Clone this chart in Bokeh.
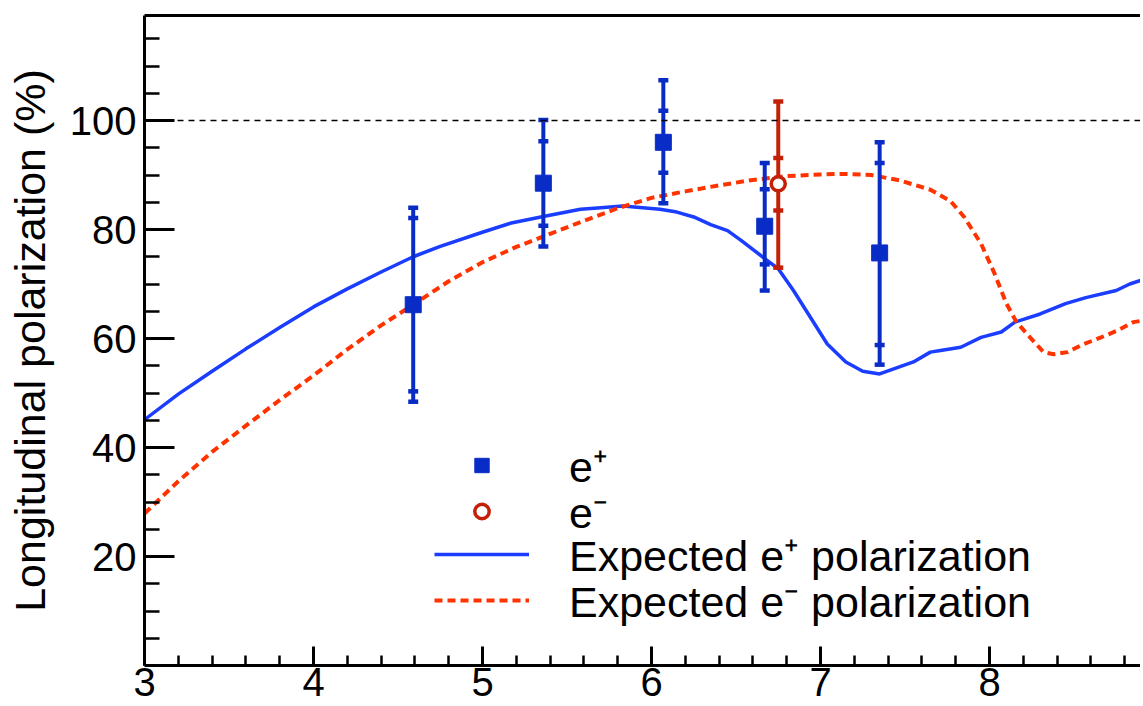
from bokeh.plotting import figure
from bokeh.models import (Range1d, FixedTicker, LinearAxis, Span, Legend, LegendItem)
from bokeh.embed import file_html
from bokeh.resources import INLINE

# ---- data ----
pos_x = [4.59, 5.36, 6.07, 6.67, 7.35]
pos_y = [66.2, 88.5, 96.0, 80.6, 75.7]
pos_stat_lo = [50.3, 80.7, 90.4, 73.6, 58.8]
pos_stat_hi = [82.1, 96.2, 101.8, 87.4, 92.2]
pos_tot_lo = [48.4, 76.9, 84.8, 68.8, 55.2]
pos_tot_hi = [84.0, 100.1, 107.4, 92.2, 96.0]

neg_x = [6.75]
neg_y = [88.4]
neg_stat_lo = [83.5]
neg_stat_hi = [93.1]
neg_tot_lo = [73.0]
neg_tot_hi = [103.5]

exp_pos_x = [3.0, 3.2, 3.4, 3.6, 3.8, 4.0, 4.2, 4.4, 4.59, 4.75, 4.99, 5.17, 5.36, 5.58, 5.70, 5.83,
             6.05, 6.15, 6.25, 6.35, 6.45, 6.53, 6.66, 6.75, 6.84, 6.94, 7.04, 7.15, 7.25, 7.35,
             7.55, 7.65, 7.71, 7.83, 7.95, 8.07, 8.15, 8.30, 8.45, 8.57, 8.75, 8.83, 8.91]
exp_pos_y = [45.1, 49.8, 54.0, 58.1, 62.0, 65.8, 69.1, 72.2, 75.0, 76.9, 79.4, 81.2, 82.4, 83.7, 84.0, 84.3,
             83.7, 83.2, 82.3, 80.9, 79.8, 78.0, 74.9, 72.8, 68.8, 63.9, 59.0, 55.7, 54.0, 53.5,
             55.7, 57.5, 57.8, 58.4, 60.2, 61.2, 63.0, 64.5, 66.4, 67.5, 68.8, 70.0, 70.8]

exp_neg_x = [3.0, 3.2, 3.4, 3.6, 3.8, 4.0, 4.2, 4.4, 4.6, 4.8, 5.0, 5.2, 5.4, 5.6, 5.8, 6.0,
             6.2, 6.4, 6.6, 6.8, 7.0, 7.13, 7.3, 7.47, 7.65, 7.77, 7.85, 7.95, 8.03, 8.10, 8.16,
             8.24, 8.32, 8.38, 8.46, 8.56, 8.66, 8.76, 8.85, 8.91]
exp_neg_y = [27.9, 33.8, 39.2, 44.0, 48.7, 53.2, 58.0, 62.4, 66.4, 70.5, 74.0, 76.8, 79.2, 81.6,
             83.9, 85.8, 87.0, 88.1, 89.1, 89.8, 90.1, 90.2, 90.0, 89.0, 87.3, 85.2, 82.3, 77.4,
             71.9, 66.4, 63.0, 60.2, 57.5, 57.1, 57.5, 59.0, 60.2, 61.5, 63.0, 63.3]

x_major = [3, 4, 5, 6, 7, 8]
x_minor = [round(3 + 0.2 * i, 1) for i in range(0, 30)]
y_major = [20, 40, 60, 80, 100]
y_minor = [5 * i for i in range(1, 24)]

legend_labels = ["e\u207a", "e\u207b", "Expected e\u207a polarization", "Expected e\u207b polarization"]

BLUE_PT = "#0a2cc6"
RED_PT = "#c42008"
BLUE_LN = "#1a3dff"
RED_LN = "#ff3300"
FONT = "Liberation Sans"

W, H = 1140, 701
LEFT, TOP = 144, 15
FRAME_H = 650
p = figure(width=W, height=H, output_backend="svg", toolbar_location=None,
           x_range=Range1d(3, 3 + (W - LEFT) / 169), y_range=Range1d(0, FRAME_H / 5.45),
           min_border_left=LEFT, min_border_right=0, min_border_top=TOP,
           min_border_bottom=H - TOP - FRAME_H,
           x_axis_type=None, y_axis_type=None)
p.outline_line_color = None
p.grid.visible = False
p.background_fill_color = "white"
p.border_fill_color = "white"

# axes
xa = LinearAxis(ticker=FixedTicker(ticks=x_major, minor_ticks=x_minor))
ya = LinearAxis(ticker=FixedTicker(ticks=y_major, minor_ticks=y_minor),
                axis_label="Longitudinal polarization (%)")
for ax, mj, mn in ((xa, 19, 10), (ya, 30, 15)):
    ax.axis_line_width = 3
    ax.axis_line_color = "black"
    ax.major_tick_in = mj
    ax.major_tick_out = 0
    ax.minor_tick_in = mn
    ax.minor_tick_out = 0
    ax.major_tick_line_width = 3
    ax.minor_tick_line_width = 2.5
    ax.major_label_text_font = FONT
    ax.major_label_text_font_size = "40px"
    ax.major_label_text_color = "black"
xa.major_label_standoff = 2
ya.major_label_standoff = 8
ya.axis_label_text_font = FONT
ya.axis_label_text_font_size = "43px"
ya.axis_label_text_font_style = "normal"
ya.axis_label_text_color = "black"
ya.axis_label_standoff = 13
p.add_layout(xa, "below")
p.add_layout(ya, "left")

top = LinearAxis(ticker=FixedTicker(ticks=[]), major_label_text_font_size="0px")
top.axis_line_width = 3
top.major_tick_line_color = None
top.minor_tick_line_color = None
p.add_layout(top, "above")

p.add_layout(Span(location=100, dimension="width", line_color="black",
                  line_width=1.5, line_dash="6 5"))

# expected curves
l_pos = p.line(exp_pos_x, exp_pos_y, line_color=BLUE_LN, line_width=3.5)
l_neg = p.line(exp_neg_x, exp_neg_y, line_color=RED_LN, line_width=4, line_dash="8 5")


def draw_points(xs, ys, slo, shi, tlo, thi, color, marker, fill):
    p.segment(x0=xs, y0=tlo, x1=xs, y1=thi, line_color=color, line_width=4)
    for arr in (slo, shi, tlo, thi):
        p.scatter(xs, arr, marker="dash", size=10, line_color=color, line_width=4.5)
    if marker == "square":
        return p.scatter(xs, ys, marker="square", size=16, fill_color=fill, line_color=color,
                         line_width=1)
    return p.scatter(xs, ys, marker="circle", size=14, fill_color=fill, line_color=color,
                     line_width=3.5)


r_pos = draw_points(pos_x, pos_y, pos_stat_lo, pos_stat_hi, pos_tot_lo, pos_tot_hi,
                    BLUE_PT, "square", BLUE_PT)
r_neg = draw_points(neg_x, neg_y, neg_stat_lo, neg_stat_hi, neg_tot_lo, neg_tot_hi,
                    RED_PT, "circle", "white")

# one legend box per row, so that the rows are spaced as in the reference
ROW_H = 60
row_bottoms = [170, 124, 81, 35]
for lab, rend, yb in zip(legend_labels, [r_pos, r_neg, l_pos, l_neg], row_bottoms):
    lg = Legend(items=[LegendItem(label=lab, renderers=[rend])], location=(290, yb))
    lg.padding = 0
    lg.margin = 0
    lg.spacing = 0
    lg.border_line_color = None
    lg.background_fill_alpha = 0
    lg.label_text_font = FONT
    lg.label_text_font_size = "43px"
    lg.label_text_color = "black"
    lg.glyph_width = 95
    lg.glyph_height = 36
    lg.label_height = ROW_H
    lg.label_standoff = 40
    p.add_layout(lg)

open("out.html", "w").write(file_html(p, INLINE))
